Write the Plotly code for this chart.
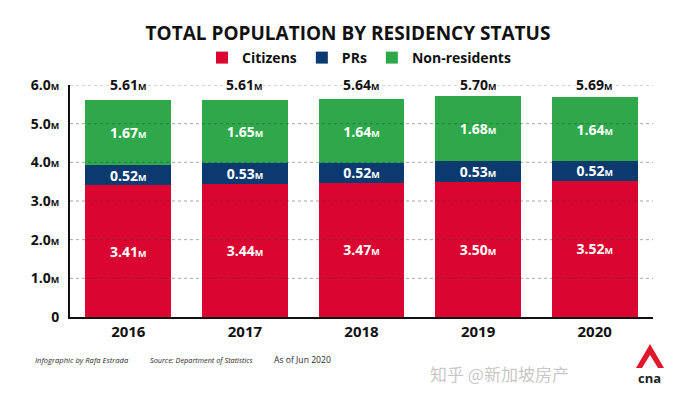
import plotly.graph_objects as go

years = ["2016", "2017", "2018", "2019", "2020"]
citizens = [3.41, 3.44, 3.47, 3.50, 3.52]
prs = [0.52, 0.53, 0.52, 0.53, 0.52]
non_residents = [1.67, 1.65, 1.64, 1.68, 1.64]
totals = [5.61, 5.61, 5.64, 5.70, 5.69]
y_ticks = [0, 1, 2, 3, 4, 5, 6]

RED = "#DA0530"
NAVY = "#0B3A70"
GREEN = "#2EA84A"
FONT = "Open Sans"

OFF = 8  # page body margin
W, H = 678 - OFF, 393 - OFF
# plot area in window px: x 70..653, y 85..317
L, R, T, B = 70 - OFF, 678 - 653, 85 - OFF, 393 - 317


def mlabel(v, big=14, small=9):
    return f"<span style='font-size:{big}px'>{v:.2f}</span><span style='font-size:{small}px'>M</span>"


def px_x(px):
    return (px - OFF - L) / (W - L - R)


def px_y(py):
    return (H - B - (py - OFF)) / (H - T - B)


def cy(py):
    return 1 - (py - OFF) / H


fig = go.Figure()
for name, vals, col in [("Citizens", citizens, RED), ("PRs", prs, NAVY), ("Non-residents", non_residents, GREEN)]:
    fig.add_trace(go.Bar(
        x=years, y=vals, name=name, marker=dict(color=col, line=dict(width=0)),
        text=[mlabel(v) for v in vals], textposition="inside", insidetextanchor="middle",
        textangle=0, constraintext="none",
        textfont=dict(color="white", family=FONT, size=14, weight="bold"),
        hoverinfo="skip",
    ))

ticktext = ["0" if v == 0 else f"{v:.1f}<span style='font-size:9px'>M</span>" for v in y_ticks]

shapes = []
for v in y_ticks[1:]:
    shapes.append(dict(type="line", xref="paper", yref="y", x0=0, x1=1, y0=v, y1=v,
                       line=dict(color="rgba(60,60,60,0.45)", width=1, dash="dot"), layer="above"))

annotations = []
for i, tot in enumerate(totals):
    annotations.append(dict(x=i, y=y_ticks[-1], xref="x", yref="y", text=mlabel(tot, 14, 9),
                            showarrow=False, bgcolor="white", borderpad=0, yshift=1,
                            font=dict(family=FONT, size=14, color="#111", weight="bold")))

footer = [
    ("<i>Infographic by Rafa Estrada</i>", 33, 7.6),
    ("<i>Source: Department of Statistics</i>", 148, 7.3),
    ("As of Jun 2020", 272, 8.6),
]
for txt, xp, sz in footer:
    annotations.append(dict(x=px_x(xp), y=px_y(360), xref="paper", yref="paper",
                            xanchor="left", yanchor="middle", text=txt, showarrow=False,
                            font=dict(family=FONT, size=sz, color="#2a2a2a")))

annotations.append(dict(x=px_x(428), y=px_y(373), xref="paper", yref="paper",
                        xanchor="left", yanchor="middle", text="知乎 @新加坡房产", showarrow=False,
                        font=dict(family="Noto Sans CJK SC", size=17, color="rgba(150,150,150,0.55)")))
annotations.append(dict(x=px_x(649), y=px_y(378), xref="paper", yref="paper",
                        xanchor="center", yanchor="middle", text="<b>cna</b>", showarrow=False,
                        font=dict(family=FONT, size=13, color="#222")))

# CNA logo mark
shapes.append(dict(type="path", xref="paper", yref="paper",
                   path=f"M {px_x(636)} {px_y(368)} L {px_x(650)} {px_y(344)} "
                        f"L {px_x(664)} {px_y(368)} L {px_x(658)} {px_y(368)} "
                        f"L {px_x(650)} {px_y(355)} L {px_x(642)} {px_y(368)} Z",
                   fillcolor="#E0182D", line=dict(width=0), layer="above"))

fig.update_layout(
    width=W, height=H,
    margin=dict(l=L, r=R, t=T, b=B, pad=0, autoexpand=False),
    paper_bgcolor="white", plot_bgcolor="white",
    barmode="stack", bargap=0.263,
    font=dict(family=FONT, color="#111"),
    title=dict(text="<b>TOTAL POPULATION BY RESIDENCY STATUS</b>", x=px_x(348), xref="paper",
               xanchor="center", y=cy(33), yanchor="middle",
               font=dict(family=FONT, size=19, color="#111")),
    legend=dict(orientation="h", x=px_x(359), xanchor="center", xref="paper", y=cy(58), yref="container",
                yanchor="middle", font=dict(family=FONT, size=14, color="#111", weight="bold"),
                traceorder="normal", itemwidth=30, bgcolor="rgba(0,0,0,0)"),
    xaxis=dict(type="category", showgrid=False, showline=True, linecolor="#111", linewidth=2, ticks="",
               tickfont=dict(family=FONT, size=15, color="#111", weight="bold"), fixedrange=True),
    yaxis=dict(range=[0, 6], tickvals=y_ticks, ticktext=ticktext, showgrid=False,
               showline=True, linecolor="#111", linewidth=2, ticks="", zeroline=False,
               tickfont=dict(family=FONT, size=14, color="#111", weight="bold"), ticklabelstandoff=6),
    shapes=shapes, annotations=annotations,
)

fig.write_html("out.html")
